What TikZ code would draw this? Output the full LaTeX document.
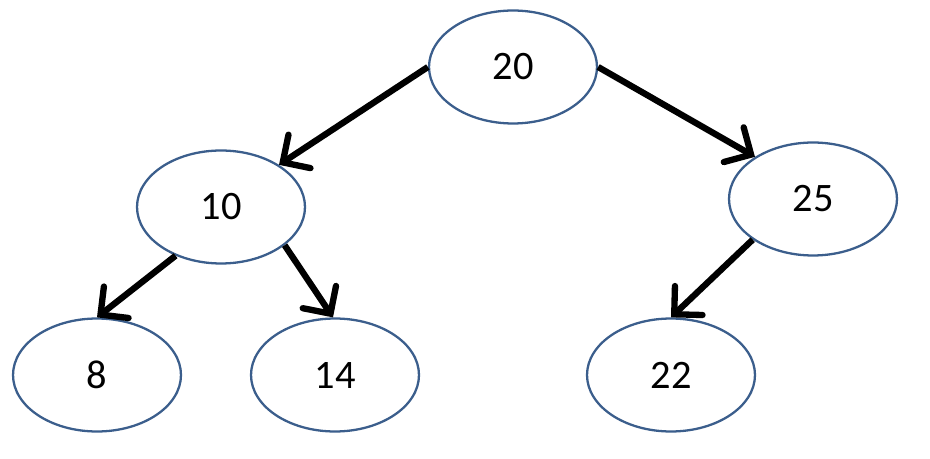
\documentclass[tikz,border=0pt]{standalone}
\usepackage{fontspec}
\setmainfont{Carlito}
\usepackage{xcolor}
\usepackage{tikz}
\usetikzlibrary{shapes,arrows,positioning,shapes.geometric,calc,arrows.meta}

\definecolor{keyblue}{HTML}{3B5E8C}

\begin{document}
\begin{tikzpicture}[x=0.02cm, y=-0.02cm,
        key/.style={ellipse, draw=keyblue, line width=1.3pt, minimum width=3.36cm, minimum height=2.26cm, font=\fontsize{23}{27}\selectfont},
        link/.style={line width=3.6pt, -{Straight Barb[length=4mm, width=8mm, line cap=round]}}]

        \useasboundingbox (0,0) rectangle (930,459);

        % keys
        \node[key] (k20) at (513,67) {20};
        \node[key] (k10) at (221,207) {10};
        \node[key] (k25) at (813,199) {25};
        \node[key] (k8) at (97,375) {8};
        \node[key] (k14) at (335,375) {14};
        \node[key] (k22) at (671,375) {22};

        % children
        \draw[link] (k20.west) -- (k10.36);
        \draw[link] (k20.east) -- (k25.144);
        \draw[link] (k10.227) -- (k8.north);
        \draw[link] (k10.-31) -- (k14.92);
        \draw[link] (k25.214) -- (k22.north);
        \end{tikzpicture}
\end{document}
